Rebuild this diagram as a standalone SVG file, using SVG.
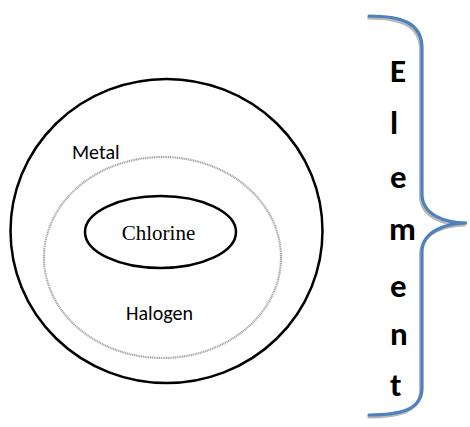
<svg xmlns="http://www.w3.org/2000/svg" width="470" height="427" viewBox="0 0 470 427">
  <style>
    .ring { fill: none; stroke: #000; stroke-width: 2.5; }
    .halo { fill: none; stroke: #aaa; stroke-width: 2.2; stroke-dasharray: 1.2 0.6; }
    .sans { font-family: Carlito, Calibri, "Liberation Sans", Arial, sans-serif; font-size: 20px; fill: #000; }
    .serif { font-family: "Liberation Serif", "Times New Roman", serif; font-size: 21px; fill: #000; }
    .letter { font-family: Carlito, Calibri, "Liberation Sans", Arial, sans-serif; font-weight: bold; font-size: 33px; fill: #000; }
    .brace { fill: none; stroke: #4f81bd; stroke-width: 3.2; stroke-linecap: round; }
    .brace-shadow { fill: none; stroke: #b8b8b8; stroke-width: 3; }
  </style>
  <rect width="470" height="427" fill="#fff"/>

  <g id="metal">
    <ellipse class="ring" cx="166.5" cy="231" rx="156" ry="152"/>
    <text class="sans" x="72" y="159">Metal</text>
  </g>

  <g id="halogen">
    <ellipse class="halo" cx="162.5" cy="257.5" rx="118.5" ry="100.5"/>
    <text class="sans" x="126" y="320">Halogen</text>
  </g>

  <g id="chlorine">
    <ellipse class="ring" cx="160.5" cy="232" rx="75.5" ry="36"/>
    <text class="serif" x="158.5" y="240" text-anchor="middle">Chlorine</text>
  </g>

  <g id="element">
    <path class="brace-shadow" transform="translate(-1.5,2)" d="M369,16 C400,16 422,22 422,48 L422,194 C422,215 445,223 467,223 C445,223 422,232 422,252 L422,388 C422,410 400,415 369,415"/>
    <path class="brace" d="M369,16 C400,16 422,22 422,48 L422,194 C422,215 445,223 467,223 C445,223 422,232 422,252 L422,388 C422,410 400,415 369,415"/>
    <text class="letter" x="390" y="82">E</text>
    <text class="letter" x="390" y="134">l</text>
    <text class="letter" x="390" y="188">e</text>
    <text class="letter" x="389" y="240">m</text>
    <text class="letter" x="390" y="297">e</text>
    <text class="letter" x="390" y="345">n</text>
    <text class="letter" x="390" y="396">t</text>
  </g>
</svg>
